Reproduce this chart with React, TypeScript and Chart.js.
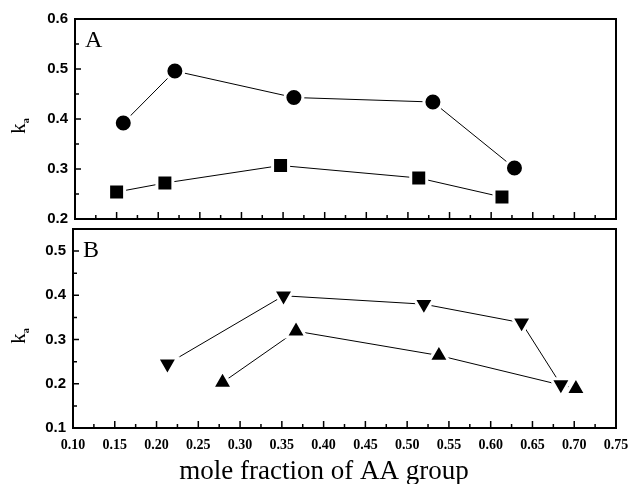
import React, { useEffect, useRef } from 'react';
import { Chart, registerables } from 'chart.js';

Chart.register(...registerables);

// ---- data ----
const xTickValues = [0.1, 0.15, 0.2, 0.25, 0.3, 0.35, 0.4, 0.45, 0.5, 0.55, 0.6, 0.65, 0.7, 0.75];
const xMinorValues = [0.125, 0.175, 0.225, 0.275, 0.325, 0.375, 0.425, 0.475, 0.525, 0.575, 0.625, 0.675, 0.725];
const yTicksA = [0.2, 0.3, 0.4, 0.5, 0.6];
const yMinorA = [0.25, 0.35, 0.45, 0.55];
const yTicksB = [0.1, 0.2, 0.3, 0.4, 0.5];
const yMinorB = [0.15, 0.25, 0.35, 0.45];

const circleX = [0.158, 0.22, 0.363, 0.53, 0.628];
const circleY = [0.392, 0.496, 0.443, 0.434, 0.302];
const squareX = [0.15, 0.208, 0.347, 0.513, 0.613];
const squareY = [0.254, 0.272, 0.307, 0.282, 0.244];
const downX = [0.213, 0.352, 0.52, 0.637, 0.684];
const downY = [0.245, 0.399, 0.38, 0.338, 0.198];
const upX = [0.279, 0.367, 0.538, 0.702];
const upY = [0.203, 0.319, 0.264, 0.189];

const xTitle = 'mole fraction of AA group';
const yTitleMain = 'k';
const yTitleSub = 'a';

const SERIF = '"Liberation Serif", "Times New Roman", "DejaVu Serif", serif';
const SANS = '"Liberation Sans", Arial, "DejaVu Sans", sans-serif';

function pts(xs: number[], ys: number[]) {
  return xs.map((x, i) => ({ x, y: ys[i] }));
}

function makeDecor(cfg: any) {
  return {
    id: 'decor',
    afterDraw(chart: any) {
      const { ctx, chartArea: a, scales } = chart;
      const xs = scales.x;
      const ys = scales.y;
      ctx.save();
      ctx.strokeStyle = '#000';
      ctx.fillStyle = '#000';
      ctx.lineWidth = 1.5;
      ctx.beginPath();
      xTickValues.forEach((v) => {
        const p = xs.getPixelForValue(v);
        ctx.moveTo(p, a.bottom);
        ctx.lineTo(p, a.bottom - 7);
      });
      xMinorValues.forEach((v) => {
        const p = xs.getPixelForValue(v);
        ctx.moveTo(p, a.bottom);
        ctx.lineTo(p, a.bottom - 4);
      });
      cfg.yMajor.forEach((v: number) => {
        const p = ys.getPixelForValue(v);
        ctx.moveTo(a.left, p);
        ctx.lineTo(a.left + 6, p);
      });
      cfg.yMinor.forEach((v: number) => {
        const p = ys.getPixelForValue(v);
        ctx.moveTo(a.left, p);
        ctx.lineTo(a.left + 4, p);
      });
      ctx.stroke();
      ctx.lineWidth = 2;
      ctx.strokeRect(a.left, a.top, a.right - a.left, a.bottom - a.top);

      // panel letter
      ctx.font = '24px ' + SERIF;
      ctx.textAlign = 'left';
      ctx.textBaseline = 'alphabetic';
      ctx.fillText(cfg.letter, a.left + 10, a.top + 28);

      // y title k_a (rotated)
      ctx.save();
      ctx.translate(cfg.yTitleX, cfg.yTitleY);
      ctx.rotate(-Math.PI / 2);
      ctx.font = '21px ' + SERIF;
      const wk = ctx.measureText(yTitleMain).width;
      ctx.font = 'bold 10px ' + SERIF;
      const wa = ctx.measureText(yTitleSub).width;
      const start = -(wk + wa) / 2;
      ctx.font = '21px ' + SERIF;
      ctx.fillText(yTitleMain, start, 0);
      ctx.font = 'bold 10px ' + SERIF;
      ctx.fillText(yTitleSub, start + wk, 4);
      ctx.restore();

      if (cfg.xTitle) {
        ctx.font = '27px ' + SERIF;
        ctx.textAlign = 'center';
        ctx.fillText(cfg.xTitle, cfg.xTitleX, cfg.xTitleY);
      }
      ctx.restore();
    },
  };
}

function ds(data: any[], style: string, radius: number, rotation = 0) {
  return {
    data,
    showLine: true,
    borderColor: '#000',
    borderWidth: 1,
    pointStyle: style,
    pointRotation: rotation,
    pointRadius: radius,
    pointHoverRadius: radius,
    pointBackgroundColor: '#000',
    pointBorderColor: '#fff',
    pointBorderWidth: 3,
    pointHoverBorderWidth: 3,
  };
}

function makeConfig(opts: any): any {
  return {
    type: 'scatter',
    data: { datasets: opts.datasets },
    options: {
      animation: false,
      responsive: false,
      devicePixelRatio: 1,
      events: [],
      layout: { autoPadding: false, padding: { top: opts.padTop, right: 15, left: 0, bottom: 0 } },
      plugins: { legend: { display: false }, tooltip: { enabled: false } },
      scales: {
        x: {
          type: 'linear',
          min: 0.1,
          max: 0.75,
          afterBuildTicks: (s: any) => {
            s.ticks = xTickValues.map((v) => ({ value: v }));
          },
          afterFit: (s: any) => {
            s.height = opts.xHeight;
            s.paddingLeft = 0;
            s.paddingRight = 0;
          },
          grid: { display: false, drawTicks: false },
          border: { display: false },
          ticks: {
            display: opts.showX,
            color: '#000',
            padding: 9,
            maxRotation: 0,
            autoSkip: false,
            font: { family: SERIF, size: 14, weight: 'bold' },
            callback: (v: any) => Number(v).toFixed(2),
          },
        },
        y: {
          type: 'linear',
          min: opts.yMin,
          max: opts.yMax,
          afterBuildTicks: (s: any) => {
            s.ticks = opts.yTicks.map((v: number) => ({ value: v }));
          },
          afterFit: (s: any) => {
            s.width = opts.yWidth;
            s.paddingTop = 0;
            s.paddingBottom = 0;
          },
          grid: { display: false, drawTicks: false },
          border: { display: false },
          ticks: {
            color: '#000',
            padding: 7,
            autoSkip: false,
            font: { family: SANS, size: 15, weight: 'bold' },
            callback: (v: any) => Number(v).toFixed(1),
          },
        },
      },
    },
    plugins: [opts.decor],
  };
}

export default function App() {
  const refA = useRef<HTMLCanvasElement>(null);
  const refB = useRef<HTMLCanvasElement>(null);

  useEffect(() => {
    const cfgA = makeConfig({
      datasets: [ds(pts(circleX, circleY), 'circle', 9), ds(pts(squareX, squareY), 'rect', 11.3)],
      padTop: 19,
      xHeight: 6,
      showX: false,
      yMin: 0.2,
      yMax: 0.6,
      yTicks: yTicksA,
      yWidth: 75,
      decor: makeDecor({ letter: 'A', yMajor: yTicksA, yMinor: yMinorA, yTitleX: 25, yTitleY: 126 }),
    });
    const cfgB = makeConfig({
      datasets: [ds(pts(downX, downY), 'triangle', 11.6, 180), ds(pts(upX, upY), 'triangle', 11.6)],
      padTop: 4,
      xHeight: 56,
      showX: true,
      yMin: 0.1,
      yMax: 0.55,
      yTicks: yTicksB,
      yWidth: 73,
      decor: makeDecor({
        letter: 'B',
        yMajor: yTicksB,
        yMinor: yMinorB,
        yTitleX: 25,
        yTitleY: 111,
        xTitle,
        xTitleX: 324,
        xTitleY: 254,
      }),
    });
    const a = new Chart(refA.current as HTMLCanvasElement, cfgA);
    const b = new Chart(refB.current as HTMLCanvasElement, cfgB);
    return () => {
      a.destroy();
      b.destroy();
    };
  }, []);

  return (
    <div style={{ position: 'absolute', left: 0, top: 0, width: 631, height: 484, background: '#fff' }}>
      <canvas
        ref={refA}
        width={631}
        height={225}
        style={{ position: 'absolute', left: 0, top: 0, width: 631, height: 225 }}
      />
      <canvas
        ref={refB}
        width={631}
        height={259}
        style={{ position: 'absolute', left: 0, top: 225, width: 631, height: 259 }}
      />
    </div>
  );
}
